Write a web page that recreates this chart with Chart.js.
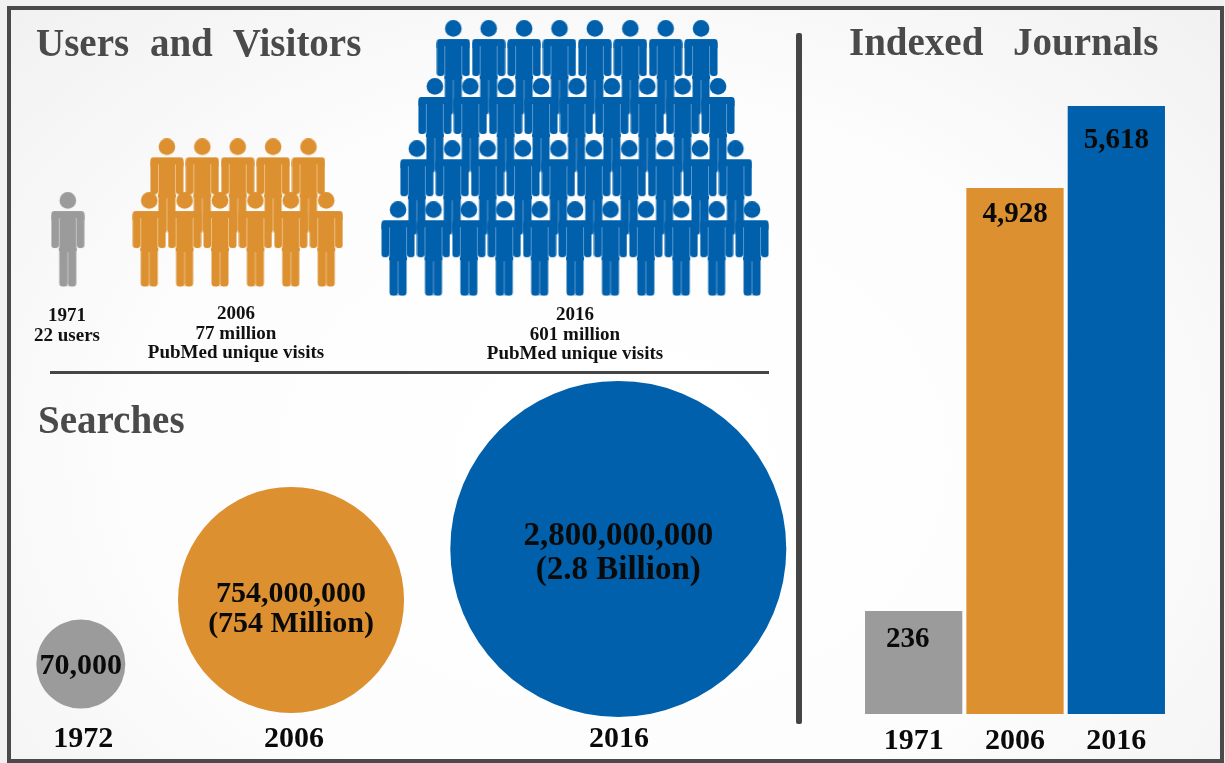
<!DOCTYPE html>
<html>
<head>
<meta charset="utf-8">
<style>
html,body{margin:0;padding:0;background:#f1f1f1;width:1225px;height:763px;overflow:hidden}
#stage{position:relative;width:1225px;height:763px;font-family:"Liberation Serif",serif;filter:blur(0.45px)}
#frame{position:absolute;left:7px;top:6px;width:1209px;height:749px;border:4px solid #4a4a4a;
 background:radial-gradient(ellipse at 50% 60%,#ffffff 0%,#fdfdfd 55%,#f1f1f1 100%)}
canvas{position:absolute}
.rule{position:absolute;background:#454545}
.head{position:absolute;font-weight:bold;color:#4a4a4a;font-size:39px;line-height:40px;white-space:pre}
.cap{position:absolute;font-weight:bold;color:#111;font-size:19px;line-height:19.5px;text-align:center;transform:translateX(-50%);white-space:pre}
</style>
</head>
<body>
<div id="stage">
  <div id="frame"></div>
  <div class="rule" style="left:796px;top:33px;width:6px;height:691px;border-radius:2px"></div>
  <div class="rule" style="left:50px;top:371px;width:719px;height:3px"></div>
  <div class="head" style="left:36px;top:23px;word-spacing:11px">Users and Visitors</div>
  <div class="head" style="left:849px;top:22px;word-spacing:20px">Indexed Journals</div>
  <div class="head" style="left:38px;top:400px">Searches</div>
  <div class="cap" style="left:67px;top:305px">1971
22 users</div>
  <div class="cap" style="left:236px;top:303px">2006
77 million
PubMed unique visits</div>
  <div class="cap" style="left:575px;top:304px">2016
601 million
PubMed unique visits</div>
  <canvas id="people" width="760" height="300" style="left:20px;top:10px"></canvas>
  <canvas id="searches" width="770" height="385" style="left:20px;top:375px"></canvas>
  <canvas id="journals" width="304" height="654" style="left:863px;top:106px"></canvas>
</div>
<script src="https://cdn.jsdelivr.net/npm/chart.js@4/dist/chart.umd.js"></script>
<script>
// ---------- data ----------
const userYears = ['1971', '2006', '2016'];
const peopleRows1971 = [1];             // icons per row, bottom row first
const peopleRows2006 = [6, 5];
const peopleRows2016 = [11, 10, 9, 8];

const searchYears = ['1972', '2006', '2016'];
const searchValues = [70000, 754000000, 2800000000];
const searchLabels = [['70,000'], ['754,000,000', '(754 Million)'], ['2,800,000,000', '(2.8 Billion)']];

const journalYears = ['1971', '2006', '2016'];
const journalValues = [236, 4928, 5618];
const journalLabels = ['236', '4,928', '5,618'];

// ---------- palette ----------
const GRAY = '#9b9b9b', ORANGE = '#dc9030', BLUE = '#0060ab';
const yearColors = [GRAY, ORANGE, BLUE];
const SERIF = '"Liberation Serif", serif';

// ---------- person icon used as a point style ----------
function personIcon(color, gap) {
  const c = document.createElement('canvas');
  c.width = 34; c.height = 95;
  const g = c.getContext('2d');
  g.fillStyle = color;
  const rr = (x, y, w, h, r) => { g.beginPath(); g.roundRect(x, y, w, h, r); g.fill(); };
  g.beginPath(); g.arc(17, 8.4, 8.3, 0, Math.PI * 2); g.fill();   // head
  rr(0.5, 19, 33, 9, [3, 3, 0, 0]);                               // shoulders
  rr(0.5, 21, 7.5, 35, 3);                                        // arms
  rr(26, 21, 7.5, 35, 3);
  g.fillRect(8, 21, 18, 38);                                      // torso
  rr(8.5, 50, 8.5, 44.5, 3.5);                                    // legs
  rr(17, 50, 8.5, 44.5, 3.5);
  g.fillStyle = gap;                                              // thin light seams
  g.fillRect(8, 26, 0.8, 30);
  g.fillRect(25.2, 26, 0.8, 30);
  g.fillRect(16.6, 60, 0.8, 35);
  return c;
}

// ---------- people chart: x in icon pitches, y in rows above the 2016 bottom row ----------
const peopleGroups = [
  { rows: peopleRows1971, centre: -14.33, heights: [0.15], shifts: [0] },
  { rows: peopleRows2006, centre: -9.53, heights: [0.15, 1.03], shifts: [0, 0] },
  { rows: peopleRows2016, centre: 0, heights: [0, 1, 2.02, 2.97], shifts: [0, 0.03, 0.04, 0.06] }
];
function peoplePoints(group) {
  const pts = [];
  for (let r = group.rows.length - 1; r >= 0; r--) {
    const n = group.rows[r];
    for (let i = 0; i < n; i++) pts.push({ x: group.centre + group.shifts[r] + i - (n - 1) / 2, y: group.heights[r] });
  }
  return pts;
}
new Chart(document.getElementById('people'), {
  type: 'scatter',
  data: {
    datasets: peopleGroups.map((g, i) => ({
      label: userYears[i],
      data: peoplePoints(g),
      pointStyle: personIcon(yearColors[i], i === 2 ? '#6ea6d6' : i === 1 ? '#f0cb97' : '#cfcfcf'),
      clip: false
    }))
  },
  options: {
    responsive: false, animation: false, devicePixelRatio: 1,
    layout: { padding: 0, autoPadding: false },
    plugins: { legend: { display: false }, tooltip: { enabled: false } },
    scales: {
      x: { type: 'linear', display: false, min: -15.68, max: 5.79 },
      y: { type: 'linear', display: false, min: -1.005, max: 3.913 }
    }
  }
});

// ---------- labels inside marks ----------
const markLabels = {
  id: 'markLabels',
  afterDatasetsDraw(chart, args, opts) {
    const g = chart.ctx;
    const pts = chart.getDatasetMeta(0).data;
    g.save();
    g.fillStyle = '#0a0a0a';
    g.textAlign = 'center';
    g.textBaseline = 'middle';
    opts.lines.forEach((lines, i) => {
      g.font = 'bold ' + opts.size[i] + 'px ' + SERIF;
      lines.forEach((t, k) => {
        g.fillText(t, pts[i].x + opts.dx[i], pts[i].y + opts.dy[i] + k * opts.leading[i]);
      });
    });
    g.restore();
  }
};

// ---------- searches: bubble chart. Radii are a lookup because the picture's circles
// do not scale with the values by any single rule. ----------
const searchRadius = new Map([[70000, 44.5], [754000000, 113], [2800000000, 168]]);
const searchXPercent = [7.9, 35.2, 77.7];
const searchYPercent = [16.2, 34.8, 49.6];
const searchTickPercent = [8.2, 35.6, 77.8];
new Chart(document.getElementById('searches'), {
  type: 'bubble',
  data: {
    datasets: [{
      data: searchValues.map((v, i) => ({ x: searchXPercent[i], y: searchYPercent[i], r: searchRadius.get(v) })),
      backgroundColor: yearColors,
      borderWidth: 0,
      clip: false
    }]
  },
  options: {
    responsive: false, animation: false, devicePixelRatio: 1,
    layout: { padding: 0, autoPadding: false },
    plugins: {
      legend: { display: false }, tooltip: { enabled: false },
      markLabels: {
        lines: searchLabels,
        size: [30, 30, 33],
        dx: [0, 0, 0],
        dy: [2, -6, -12],
        leading: [0, 30, 34]
      }
    },
    scales: {
      x: {
        type: 'linear', min: 0, max: 100,
        grid: { display: false, drawTicks: false }, border: { display: false },
        afterFit: s => { s.height = 40; },
        afterBuildTicks: s => { s.ticks = searchTickPercent.map(v => ({ value: v })); },
        afterTickToLabelConversion: s => { s.ticks.forEach((t, i) => { t.label = searchYears[i]; }); },
        ticks: { autoSkip: false, maxRotation: 0, padding: 1, color: '#0a0a0a', font: { family: SERIF, weight: 'bold', size: 30 } }
      },
      y: { type: 'linear', display: false, min: 0, max: 100 }
    }
  },
  plugins: [markLabels]
});

// ---------- journals: bar chart. The picture's value axis is not linear (236 is drawn far
// taller than its share), so a small piecewise scale maps values to axis fractions. ----------
const journalAxisStops = [[0, 0], [236, 0.1694], [4928, 0.8651], [5618, 1]];
class JournalScale extends Chart.LinearScale {
  getPixelForValue(value) {
    const s = journalAxisStops;
    let i = 1;
    while (i < s.length - 1 && value > s[i][0]) i++;
    const t = (value - s[i - 1][0]) / (s[i][0] - s[i - 1][0]);
    return this.getPixelForDecimal(s[i - 1][1] + t * (s[i][1] - s[i - 1][1]));
  }
}
JournalScale.id = 'journalScale';
JournalScale.defaults = Chart.LinearScale.defaults;
Chart.register(JournalScale);

new Chart(document.getElementById('journals'), {
  type: 'bar',
  data: {
    labels: journalYears,
    datasets: [{
      data: journalValues,
      backgroundColor: yearColors,
      borderWidth: 0,
      barPercentage: 0.96,
      categoryPercentage: 1
    }]
  },
  options: {
    responsive: false, animation: false, devicePixelRatio: 1,
    layout: { padding: 0, autoPadding: false },
    plugins: {
      legend: { display: false }, tooltip: { enabled: false },
      markLabels: {
        lines: journalLabels.map(t => [t]),
        size: [29, 29, 29],
        dx: [-6, 0, 0],
        dy: [29, 26, 35],
        leading: [0, 0, 0]
      }
    },
    scales: {
      x: {
        grid: { display: false, drawTicks: false }, border: { display: false },
        afterFit: s => { s.height = 46; },
        ticks: { autoSkip: false, maxRotation: 0, padding: 9, color: '#0a0a0a', font: { family: SERIF, weight: 'bold', size: 30 } }
      },
      y: { type: 'journalScale', display: false, min: 0, max: 5618 }
    }
  },
  plugins: [markLabels]
});
</script>
</body>
</html>
